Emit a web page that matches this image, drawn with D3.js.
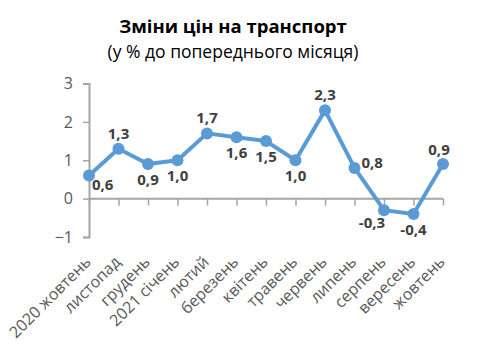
<!DOCTYPE html>
<html>
<head>
<meta charset="utf-8">
<script src="https://cdn.jsdelivr.net/npm/d3@7"></script>
<style>
  html, body { margin: 0; padding: 0; background: #fff; }
  svg { display: block; }
</style>
</head>
<body>
<svg id="chart" width="480" height="350"></svg>
<script>
// Monthly transport price changes, % vs previous month
const months = ["2020 жовтень", "листопад", "грудень", "2021 січень", "лютий", "березень",
                "квітень", "травень", "червень", "липень", "серпень", "вересень", "жовтень"];
const values = [0.6, 1.3, 0.9, 1.0, 1.7, 1.6, 1.5, 1.0, 2.3, 0.8, -0.3, -0.4, 0.9];
const valueLabels = ["0,6", "1,3", "0,9", "1,0", "1,7", "1,6", "1,5", "1,0", "2,3", "0,8", "-0,3", "-0,4", "0,9"];
const labelPlacement = ["belowRight", "above", "below", "below", "above", "below",
                        "below", "below", "above", "right", "belowLeft", "below", "aboveLeft"];
const yTicks = [-1, 0, 1, 2, 3];

const svg = d3.select("#chart");
const font = "'Open Sans', 'Noto Sans', sans-serif";
const axisColor = "#a6a6a6";
const textGray = "#595959";
const lineBlue = "#5b9bd5";

const x = d3.scalePoint().domain(months).range([89, 443]);
const y = d3.scaleLinear().domain([-1, 3]).range([237, 83.5]);

// Titles
svg.append("text")
  .attr("x", 233).attr("y", 33)
  .attr("text-anchor", "middle")
  .attr("font-family", font).attr("font-weight", "bold").attr("font-size", 18.5)
  .attr("fill", "#000")
  .text("Зміни цін на транспорт");
svg.append("text")
  .attr("x", 233).attr("y", 58)
  .attr("text-anchor", "middle")
  .attr("font-family", font).attr("font-size", 17.5)
  .attr("fill", "#000")
  .text("(у % до попереднього місяця)");

// Y axis
const yAxis = svg.append("g")
  .attr("transform", `translate(${x.range()[0]},0)`)
  .call(d3.axisLeft(y).tickValues(yTicks).tickSize(6).tickPadding(10).tickFormat(d3.format("d")));
yAxis.select(".domain").attr("stroke", axisColor).attr("stroke-width", 2);
yAxis.selectAll(".tick line").attr("stroke", axisColor).attr("stroke-width", 1.5);
yAxis.selectAll(".tick text")
  .attr("font-family", font).attr("font-size", 16).attr("fill", textGray);

// X axis along zero line
const xAxis = svg.append("g")
  .attr("transform", `translate(0,${y(0)})`)
  .call(d3.axisBottom(x).tickSize(7).tickFormat(""));
xAxis.select(".domain").attr("stroke", axisColor).attr("stroke-width", 2)
  .attr("d", `M${x.range()[0]},0H${x.range()[1]}`);
xAxis.selectAll(".tick line").attr("stroke", axisColor).attr("stroke-width", 1.5);

// Rotated category labels
svg.append("g").selectAll("text")
  .data(months)
  .join("text")
  .attr("transform", d => `translate(${x(d) + 3},${y(-1) + 26}) rotate(-45)`)
  .attr("text-anchor", "end")
  .attr("font-family", font).attr("font-size", 16).attr("fill", textGray)
  .text(d => d);

// Line and markers
svg.append("path")
  .datum(values)
  .attr("fill", "none")
  .attr("stroke", lineBlue)
  .attr("stroke-width", 4)
  .attr("stroke-linejoin", "round")
  .attr("d", d3.line().x((d, i) => x(months[i])).y(d => y(d)));

svg.append("g").selectAll("circle")
  .data(values)
  .join("circle")
  .attr("cx", (d, i) => x(months[i]))
  .attr("cy", d => y(d))
  .attr("r", 6)
  .attr("fill", lineBlue);

// Data labels: [dx, dy, anchor]
const offsets = {
  above: [0, -10, "middle"],
  aboveLeft: [-4, -9, "middle"],
  below: [0, 21, "middle"],
  belowRight: [3, 14, "start"],
  belowLeft: [-12, 18, "middle"],
  right: [7, 0, "start"]
};
svg.append("g").selectAll("text")
  .data(values)
  .join("text")
  .attr("x", (d, i) => x(months[i]) + offsets[labelPlacement[i]][0])
  .attr("y", (d, i) => y(d) + offsets[labelPlacement[i]][1])
  .attr("text-anchor", (d, i) => offsets[labelPlacement[i]][2])
  .attr("font-family", font).attr("font-weight", "bold").attr("font-size", 15)
  .attr("fill", "#404040")
  .text((d, i) => valueLabels[i]);
</script>
</body>
</html>
